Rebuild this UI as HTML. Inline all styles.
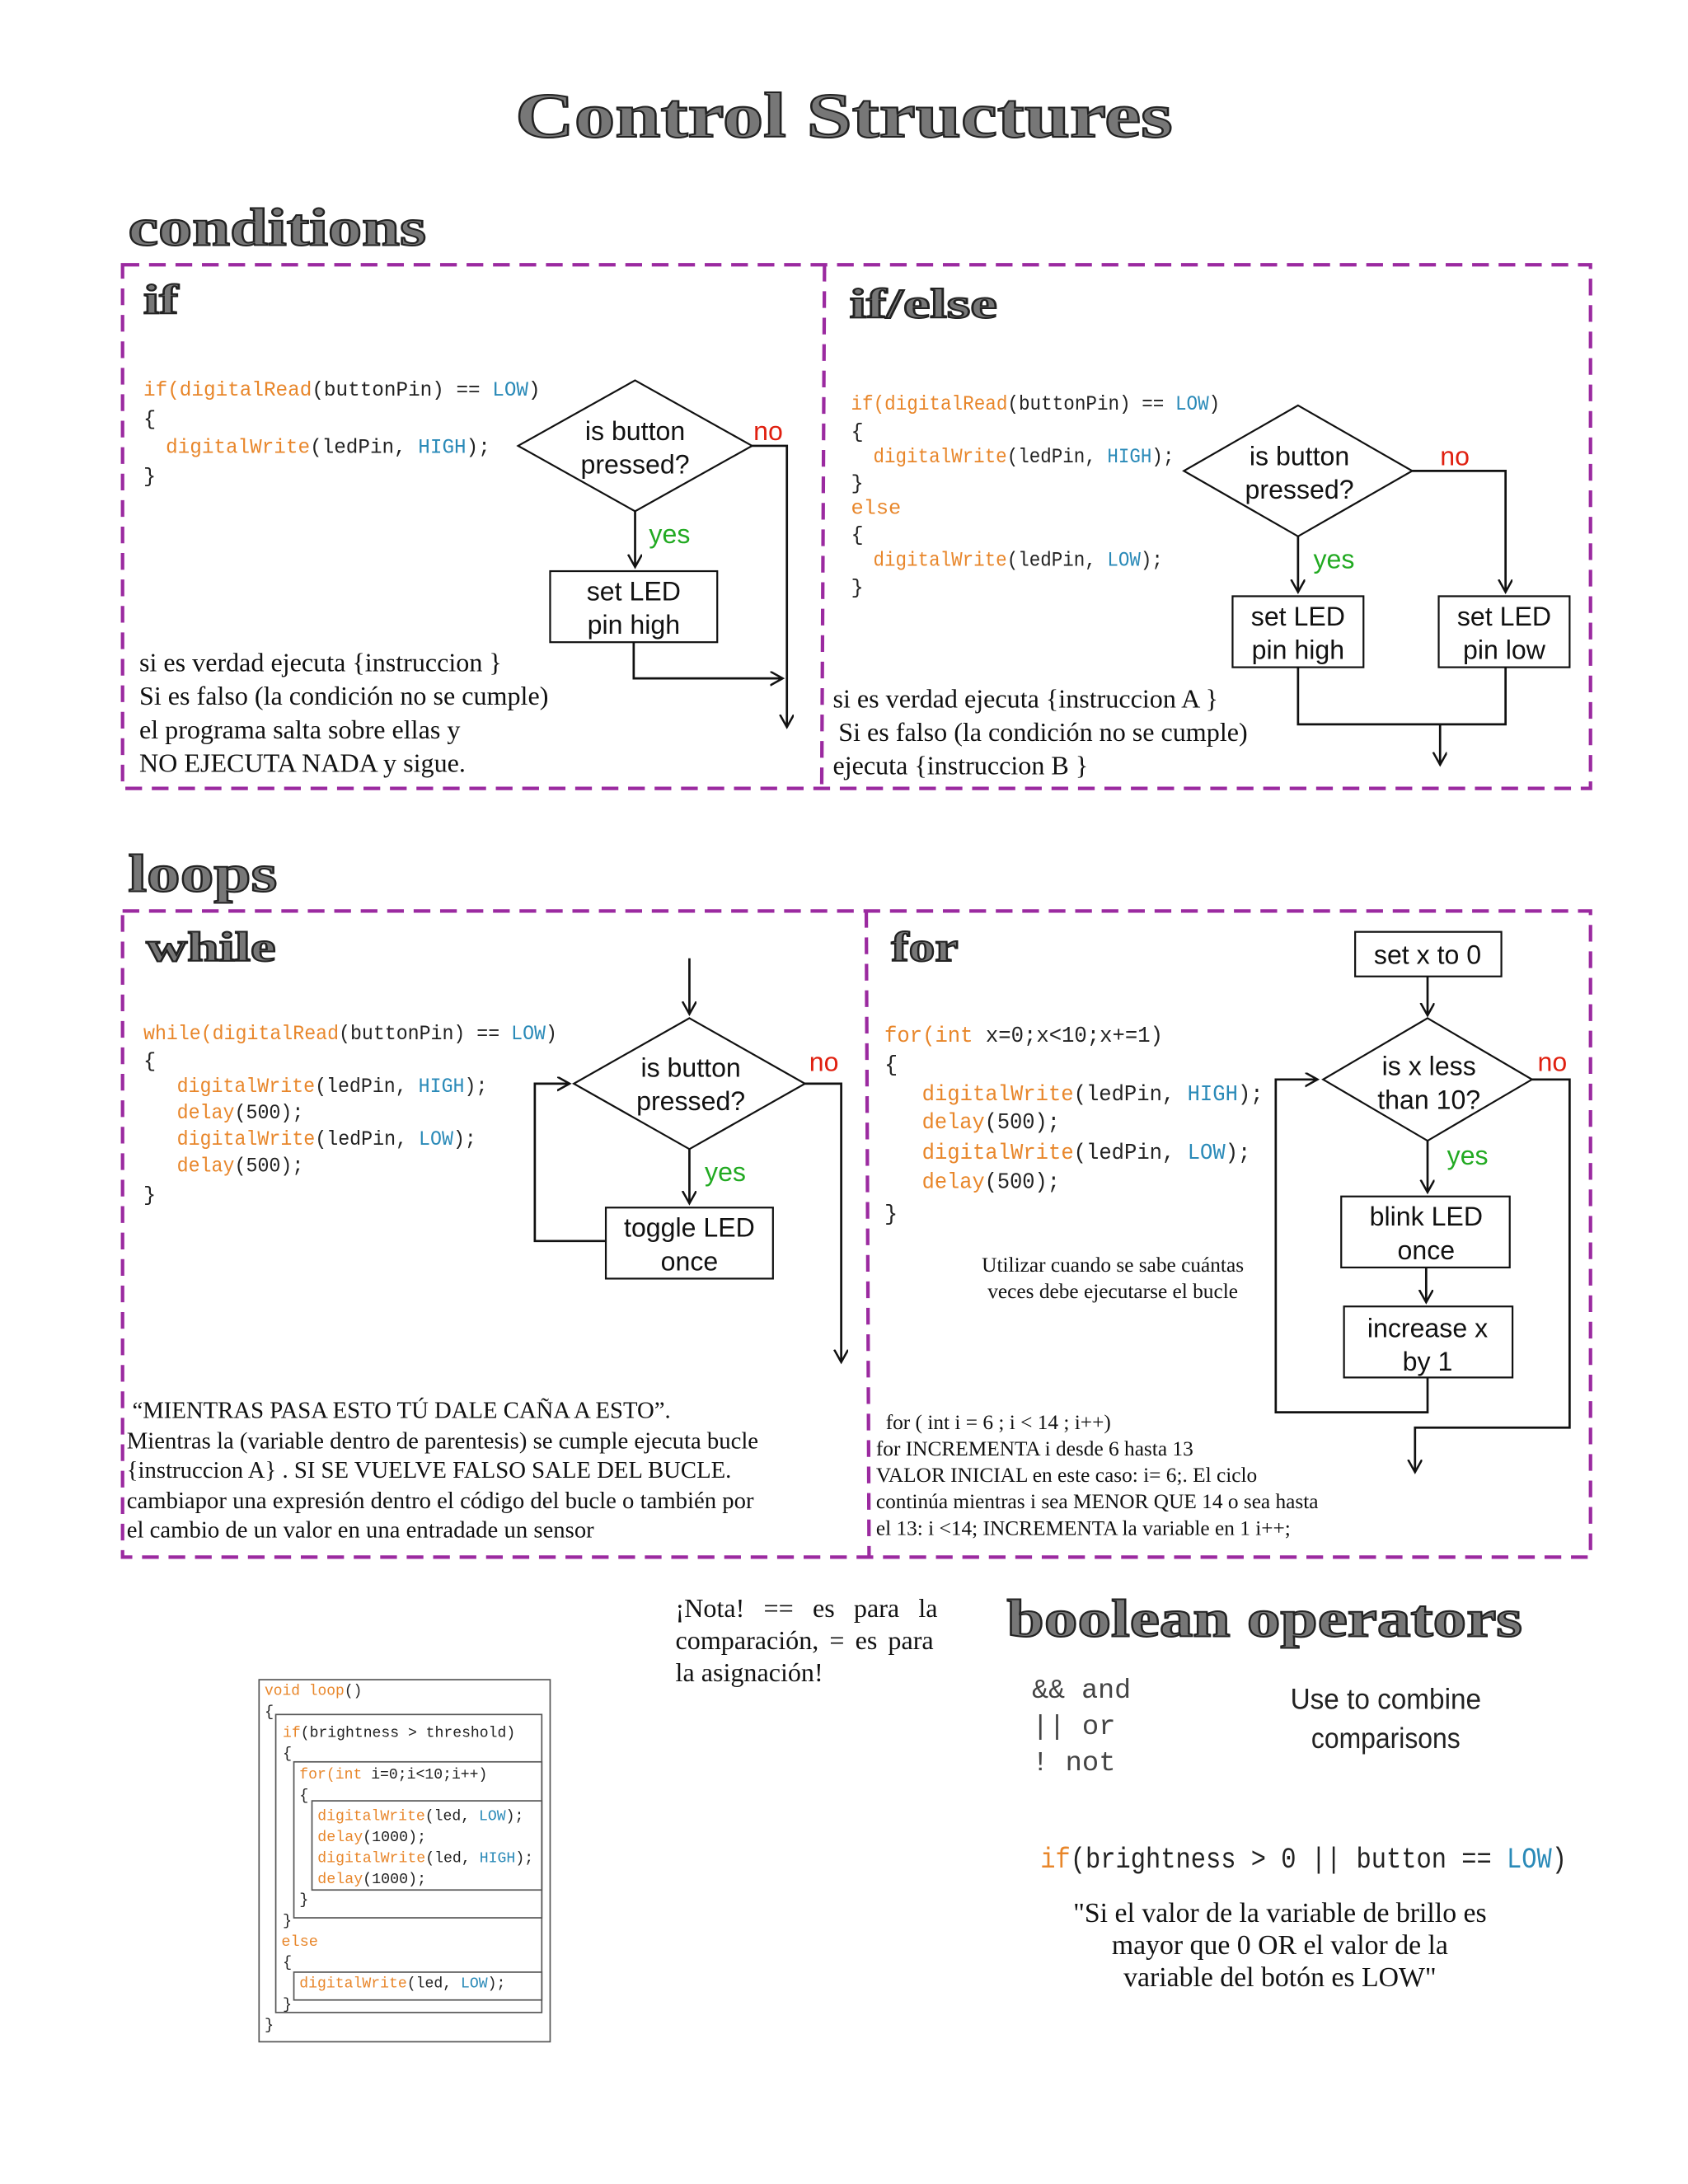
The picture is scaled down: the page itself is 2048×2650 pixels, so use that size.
<!DOCTYPE html>
<html><head><meta charset="utf-8"><style>
html,body{margin:0;padding:0;background:#fff}
svg{display:block}
.t{font-family:"Liberation Serif",serif;font-weight:bold;fill:#777;stroke:#222;stroke-width:1.2}
.m{font-family:"Liberation Mono","DejaVu Sans Mono",monospace;fill:#222}
.o{fill:#e8862a}.b{fill:#2a8ab8}
.s{font-family:"Liberation Serif",serif;fill:#111}
.f{font-family:"Liberation Sans",sans-serif;fill:#111}
.ln{fill:none;stroke:#111;stroke-width:1.6}
.bx{fill:#fff;stroke:#111;stroke-width:1.3}
.d{fill:none;stroke:#9b2aa0;stroke-width:2.5;stroke-dasharray:12 7}
.no{fill:#e02010}.yes{fill:#22aa22}
.cb{fill:none;stroke:#555;stroke-width:1}
</style></head><body>
<svg width="2048" height="2650" viewBox="0 0 1212 1568" xmlns="http://www.w3.org/2000/svg">
<defs><marker id="a" markerUnits="userSpaceOnUse" markerWidth="12" markerHeight="12" refX="9" refY="5" orient="auto"><path d="M0,0 L9,5 L0,10" fill="none" stroke="#111" stroke-width="1.5"/></marker></defs>
<rect width="1212" height="1568" fill="#fff"/>
<text class="t" x="370" y="98" font-size="46" textLength="472" lengthAdjust="spacingAndGlyphs">Control Structures</text>
<text class="t" x="92" y="176" font-size="38" textLength="214" lengthAdjust="spacingAndGlyphs">conditions</text>
<rect class="d" x="88" y="190" width="1054" height="376"/>
<line class="d" x1="592" y1="190" x2="590" y2="566"/>
<text class="t" x="103" y="225" font-size="30" textLength="25" lengthAdjust="spacingAndGlyphs">if</text>
<text class="t" x="610" y="228" font-size="30" textLength="106" lengthAdjust="spacingAndGlyphs">if/else</text>

<g class="m" font-size="15">
<text x="103" y="284" textLength="285" lengthAdjust="spacingAndGlyphs"><tspan class="o">if(digitalRead</tspan>(buttonPin) == <tspan class="b">LOW</tspan>)</text>
<text x="103" y="305">{</text>
<text x="119" y="325" textLength="233" lengthAdjust="spacingAndGlyphs"><tspan class="o">digitalWrite</tspan>(ledPin, <tspan class="b">HIGH</tspan>);</text>
<text x="103" y="346">}</text>
</g>
<polygon class="bx" points="456,273 540,320 456,367 372,320"/>
<text class="f" x="456" y="316" font-size="19" text-anchor="middle">is button</text>
<text class="f" x="456" y="340" font-size="19" text-anchor="middle">pressed?</text>
<text class="f no" x="541" y="316" font-size="19">no</text>
<polyline class="ln" points="540,320 565,320 565,522" marker-end="url(#a)"/>
<line class="ln" x1="456" y1="367" x2="456" y2="407" marker-end="url(#a)"/>
<text class="f yes" x="466" y="390" font-size="19">yes</text>
<rect class="bx" x="395" y="410" width="120" height="51"/>
<text class="f" x="455" y="431" font-size="19" text-anchor="middle">set LED</text>
<text class="f" x="455" y="455" font-size="19" text-anchor="middle">pin high</text>
<polyline class="ln" points="455,461 455,487 562,487" marker-end="url(#a)"/>
<g class="s" font-size="19">
<text x="100" y="482">si es verdad ejecuta {instruccion }</text>
<text x="100" y="506">Si es falso (la condición no se cumple)</text>
<text x="100" y="530">el programa salta sobre ellas y</text>
<text x="100" y="554">NO EJECUTA NADA y sigue.</text>
</g>

<g class="m" font-size="15">
<text x="611" y="294" textLength="265" lengthAdjust="spacingAndGlyphs"><tspan class="o">if(digitalRead</tspan>(buttonPin) == <tspan class="b">LOW</tspan>)</text>
<text x="611" y="314">{</text>
<text x="627" y="332" textLength="216" lengthAdjust="spacingAndGlyphs"><tspan class="o">digitalWrite</tspan>(ledPin, <tspan class="b">HIGH</tspan>);</text>
<text x="611" y="351">}</text>
<text x="611" y="369" class="o">else</text>
<text x="611" y="388">{</text>
<text x="627" y="406" textLength="208" lengthAdjust="spacingAndGlyphs"><tspan class="o">digitalWrite</tspan>(ledPin, <tspan class="b">LOW</tspan>);</text>
<text x="611" y="426">}</text>
</g>
<polygon class="bx" points="932,291 1014,338 932,385 850,338"/>
<text class="f" x="933" y="334" font-size="19" text-anchor="middle">is button</text>
<text class="f" x="933" y="358" font-size="19" text-anchor="middle">pressed?</text>
<text class="f no" x="1034" y="334" font-size="19">no</text>
<polyline class="ln" points="1014,338 1081,338 1081,425" marker-end="url(#a)"/>
<line class="ln" x1="932" y1="385" x2="932" y2="425" marker-end="url(#a)"/>
<text class="f yes" x="943" y="408" font-size="19">yes</text>
<rect class="bx" x="885" y="428" width="94" height="51"/>
<text class="f" x="932" y="449" font-size="19" text-anchor="middle">set LED</text>
<text class="f" x="932" y="473" font-size="19" text-anchor="middle">pin high</text>
<rect class="bx" x="1033" y="428" width="94" height="51"/>
<text class="f" x="1080" y="449" font-size="19" text-anchor="middle">set LED</text>
<text class="f" x="1080" y="473" font-size="19" text-anchor="middle">pin low</text>
<polyline class="ln" points="932,479 932,520 1081,520 1081,479"/>
<line class="ln" x1="1034" y1="520" x2="1034" y2="549" marker-end="url(#a)"/>
<g class="s" font-size="19">
<text x="598" y="508">si es verdad ejecuta {instruccion A }</text>
<text x="602" y="532">Si es falso (la condición no se cumple)</text>
<text x="598" y="556">ejecuta {instruccion B }</text>
</g>

<text class="t" x="92" y="640" font-size="38" textLength="107" lengthAdjust="spacingAndGlyphs">loops</text>
<rect class="d" x="88" y="654" width="1054" height="464"/>
<line class="d" x1="622" y1="654" x2="624" y2="1118"/>
<text class="t" x="105" y="690" font-size="30" textLength="93" lengthAdjust="spacingAndGlyphs">while</text>
<text class="t" x="640" y="690" font-size="30" textLength="48" lengthAdjust="spacingAndGlyphs">for</text>

<g class="m" font-size="15">
<text x="103" y="746" textLength="297" lengthAdjust="spacingAndGlyphs"><tspan class="o">while(digitalRead</tspan>(buttonPin) == <tspan class="b">LOW</tspan>)</text>
<text x="103" y="766">{</text>
<text x="127" y="784" textLength="223" lengthAdjust="spacingAndGlyphs"><tspan class="o">digitalWrite</tspan>(ledPin, <tspan class="b">HIGH</tspan>);</text>
<text x="127" y="803" textLength="91" lengthAdjust="spacingAndGlyphs"><tspan class="o">delay</tspan>(500);</text>
<text x="127" y="822" textLength="215" lengthAdjust="spacingAndGlyphs"><tspan class="o">digitalWrite</tspan>(ledPin, <tspan class="b">LOW</tspan>);</text>
<text x="127" y="841" textLength="91" lengthAdjust="spacingAndGlyphs"><tspan class="o">delay</tspan>(500);</text>
<text x="103" y="862">}</text>
</g>
<line class="ln" x1="495" y1="688" x2="495" y2="728" marker-end="url(#a)"/>
<polygon class="bx" points="495,731 578,778 495,825 412,778"/>
<text class="f" x="496" y="773" font-size="19" text-anchor="middle">is button</text>
<text class="f" x="496" y="797" font-size="19" text-anchor="middle">pressed?</text>
<text class="f no" x="581" y="769" font-size="19">no</text>
<polyline class="ln" points="578,778 604,778 604,978" marker-end="url(#a)"/>
<line class="ln" x1="495" y1="825" x2="495" y2="864" marker-end="url(#a)"/>
<text class="f yes" x="506" y="848" font-size="19">yes</text>
<rect class="bx" x="435" y="867" width="120" height="51"/>
<text class="f" x="495" y="888" font-size="19" text-anchor="middle">toggle LED</text>
<text class="f" x="495" y="912" font-size="19" text-anchor="middle">once</text>
<polyline class="ln" points="435,891 384,891 384,778 409,778" marker-end="url(#a)"/>
<g class="s" font-size="17">
<text x="95" y="1018">“MIENTRAS PASA ESTO TÚ DALE CAÑA A ESTO”.</text>
<text x="91" y="1040">Mientras la (variable dentro de parentesis) se cumple ejecuta bucle</text>
<text x="91" y="1061">{instruccion A} .   SI SE VUELVE FALSO SALE DEL BUCLE.</text>
<text x="91" y="1083">cambiapor una expresión dentro el código del bucle o también por</text>
<text x="91" y="1104">el cambio de un valor en una entradade un sensor</text>
</g>

<g class="m" font-size="16">
<text x="635" y="748" textLength="200" lengthAdjust="spacingAndGlyphs"><tspan class="o">for(int</tspan> x=0;x&lt;10;x+=1)</text>
<text x="635" y="769">{</text>
<text x="662" y="790" textLength="245" lengthAdjust="spacingAndGlyphs"><tspan class="o">digitalWrite</tspan>(ledPin, <tspan class="b">HIGH</tspan>);</text>
<text x="662" y="810" textLength="99" lengthAdjust="spacingAndGlyphs"><tspan class="o">delay</tspan>(500);</text>
<text x="662" y="832" textLength="236" lengthAdjust="spacingAndGlyphs"><tspan class="o">digitalWrite</tspan>(ledPin, <tspan class="b">LOW</tspan>);</text>
<text x="662" y="853" textLength="99" lengthAdjust="spacingAndGlyphs"><tspan class="o">delay</tspan>(500);</text>
<text x="635" y="876">}</text>
</g>
<rect class="bx" x="973" y="669" width="105" height="32"/>
<text class="f" x="1025" y="692" font-size="19" text-anchor="middle">set x to 0</text>
<line class="ln" x1="1025" y1="701" x2="1025" y2="729" marker-end="url(#a)"/>
<polygon class="bx" points="1025,731 1100,775 1025,819 950,775"/>
<text class="f" x="1026" y="772" font-size="19" text-anchor="middle">is x less</text>
<text class="f" x="1026" y="796" font-size="19" text-anchor="middle">than 10?</text>
<text class="f no" x="1104" y="769" font-size="19">no</text>
<polyline class="ln" points="1100,775 1127,775 1127,1025 1016,1025 1016,1057" marker-end="url(#a)"/>
<line class="ln" x1="1025" y1="819" x2="1025" y2="856" marker-end="url(#a)"/>
<text class="f yes" x="1039" y="836" font-size="19">yes</text>
<rect class="bx" x="963" y="859" width="121" height="51"/>
<text class="f" x="1024" y="880" font-size="19" text-anchor="middle">blink LED</text>
<text class="f" x="1024" y="904" font-size="19" text-anchor="middle">once</text>
<line class="ln" x1="1024" y1="910" x2="1024" y2="935" marker-end="url(#a)"/>
<rect class="bx" x="965" y="938" width="121" height="51"/>
<text class="f" x="1025" y="960" font-size="19" text-anchor="middle">increase x</text>
<text class="f" x="1025" y="984" font-size="19" text-anchor="middle">by 1</text>
<polyline class="ln" points="1025,989 1025,1014 916,1014 916,775 946,775" marker-end="url(#a)"/>
<g class="s" font-size="15" text-anchor="middle">
<text x="799" y="913">Utilizar cuando se sabe cuántas</text>
<text x="799" y="932">veces debe ejecutarse el bucle</text>
</g>
<g class="s" font-size="15">
<text x="636" y="1026">for ( int i = 6 ; i &lt; 14 ; i++)</text>
<text x="629" y="1045">for INCREMENTA i desde 6 hasta 13</text>
<text x="629" y="1064">VALOR INICIAL en este caso:  i= 6;. El ciclo</text>
<text x="629" y="1083">continúa mientras  i sea MENOR QUE 14 o sea hasta</text>
<text x="629" y="1102">el 13: i &lt;14; INCREMENTA la variable en 1  i++;</text>
</g>

<g class="s" font-size="19">
<text x="485" y="1161" word-spacing="9">¡Nota! == es para la</text>
<text x="485" y="1184" word-spacing="3">comparación, = es para</text>
<text x="485" y="1207">la asignación!</text>
</g>
<text class="t" x="723" y="1175" font-size="38" textLength="370" lengthAdjust="spacingAndGlyphs">boolean operators</text>
<g class="m" font-size="20" style="fill:#444">
<text x="741" y="1219" textLength="71" lengthAdjust="spacingAndGlyphs">&amp;&amp; and</text>
<text x="741" y="1245">|| or</text>
<text x="741" y="1271">!  not</text>
</g>
<g class="f" font-size="21" text-anchor="middle" style="fill:#222">
<text x="995" y="1227" textLength="137" lengthAdjust="spacingAndGlyphs">Use to combine</text>
<text x="995" y="1255" textLength="107" lengthAdjust="spacingAndGlyphs">comparisons</text>
</g>
<text class="m" x="747" y="1341" font-size="21" textLength="378" lengthAdjust="spacingAndGlyphs"><tspan class="o">if</tspan>(brightness &gt; 0 || button == <tspan class="b">LOW</tspan>)</text>
<g class="s" font-size="20" text-anchor="middle">
<text x="919" y="1380">"Si el valor de la variable de brillo es</text>
<text x="919" y="1403">mayor que 0 OR el valor de la</text>
<text x="919" y="1426">variable del botón es LOW"</text>
</g>

<rect class="cb" x="186" y="1206" width="209" height="260"/>
<rect class="cb" x="198" y="1231" width="191" height="214"/>
<rect class="cb" x="211" y="1265" width="178" height="112"/>
<rect class="cb" x="224" y="1293" width="165" height="64"/>
<rect class="cb" x="211" y="1416" width="178" height="20"/>
<g class="m" font-size="11">
<text x="190" y="1217" class="o" textLength="70" lengthAdjust="spacingAndGlyphs">void loop<tspan style="fill:#222">()</tspan></text>
<text x="190" y="1232">{</text>
<text x="203" y="1247" textLength="167" lengthAdjust="spacingAndGlyphs"><tspan class="o">if</tspan>(brightness &gt; threshold)</text>
<text x="203" y="1262">{</text>
<text x="215" y="1277" textLength="135" lengthAdjust="spacingAndGlyphs"><tspan class="o">for(int</tspan> i=0;i&lt;10;i++)</text>
<text x="215" y="1292">{</text>
<text x="228" y="1307" textLength="148" lengthAdjust="spacingAndGlyphs"><tspan class="o">digitalWrite</tspan>(led, <tspan class="b">LOW</tspan>);</text>
<text x="228" y="1322" textLength="78" lengthAdjust="spacingAndGlyphs"><tspan class="o">delay</tspan>(1000);</text>
<text x="228" y="1337" textLength="155" lengthAdjust="spacingAndGlyphs"><tspan class="o">digitalWrite</tspan>(led, <tspan class="b">HIGH</tspan>);</text>
<text x="228" y="1352" textLength="78" lengthAdjust="spacingAndGlyphs"><tspan class="o">delay</tspan>(1000);</text>
<text x="215" y="1367">}</text>
<text x="203" y="1382">}</text>
<text x="202" y="1397" class="o">else</text>
<text x="203" y="1412">{</text>
<text x="215" y="1427" textLength="148" lengthAdjust="spacingAndGlyphs"><tspan class="o">digitalWrite</tspan>(led, <tspan class="b">LOW</tspan>);</text>
<text x="203" y="1442">}</text>
<text x="190" y="1457">}</text>
</g>
</svg>
</body></html>
